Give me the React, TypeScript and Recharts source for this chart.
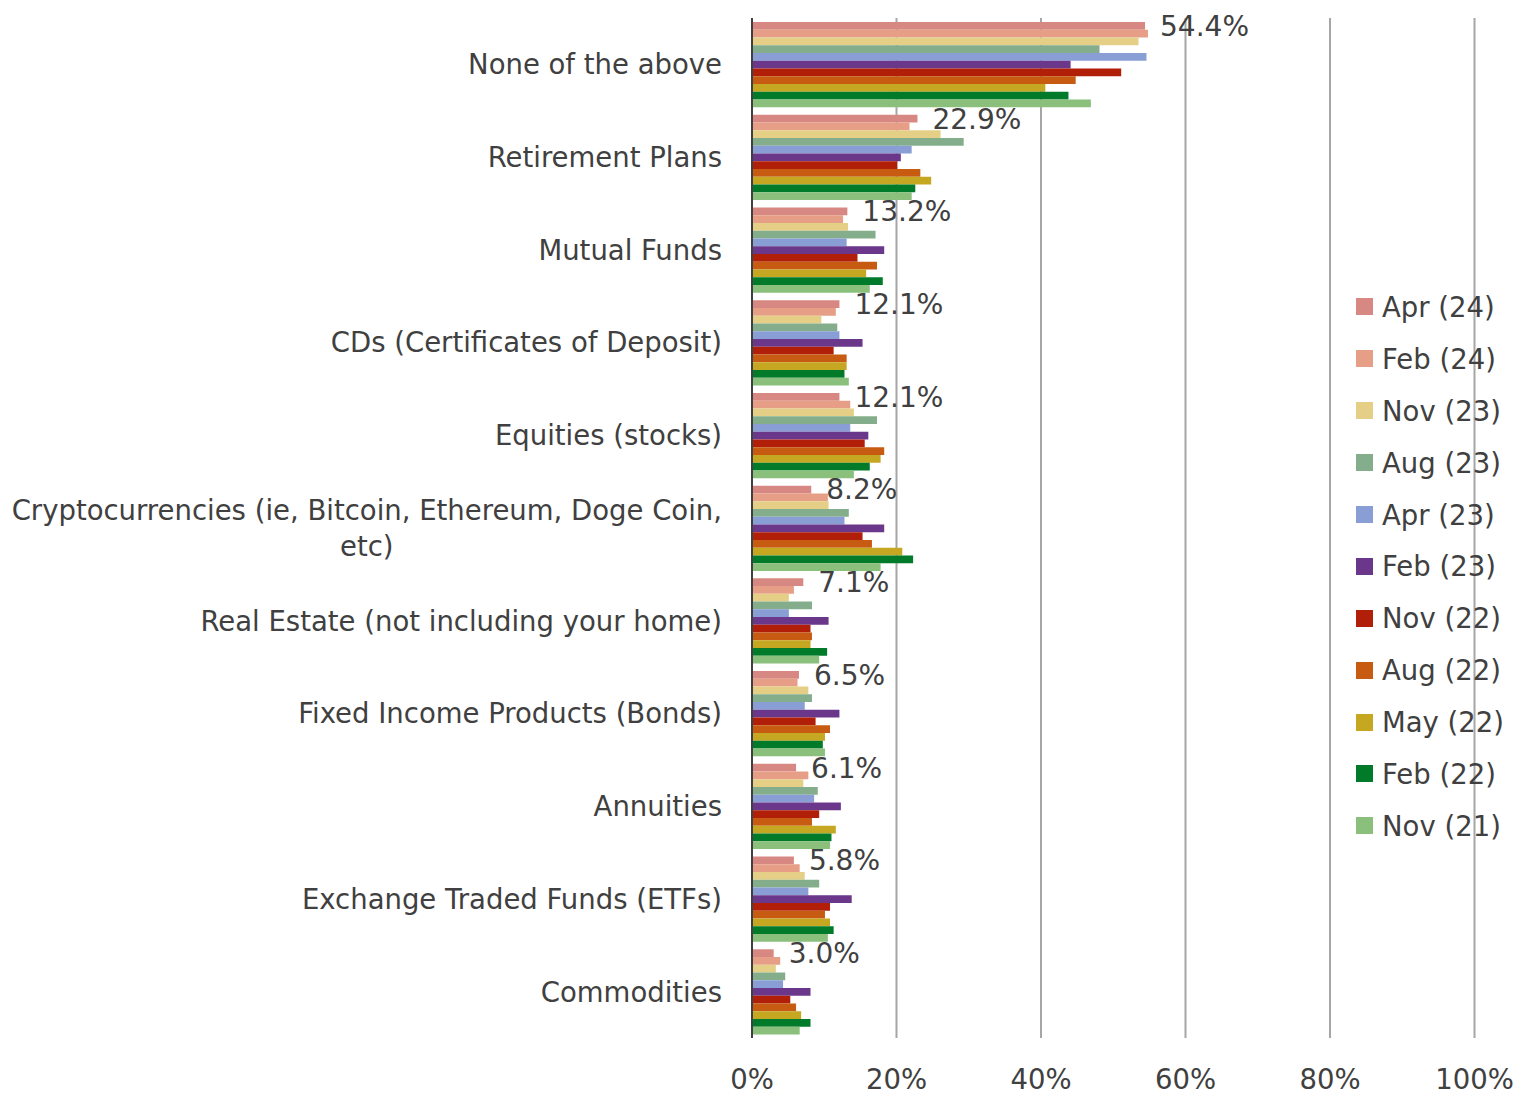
import React from "react";
import { BarChart, Bar, XAxis, YAxis, CartesianGrid, Legend, LabelList } from "recharts";

const categories = [
  "None of the above",
  "Retirement Plans",
  "Mutual Funds",
  "CDs (Certificates of Deposit)",
  "Equities (stocks)",
  "Cryptocurrencies (ie, Bitcoin, Ethereum, Doge Coin, etc)",
  "Real Estate (not including your home)",
  "Fixed Income Products (Bonds)",
  "Annuities",
  "Exchange Traded Funds (ETFs)",
  "Commodities",
];

const apr24 = [54.4, 22.9, 13.2, 12.1, 12.1, 8.2, 7.1, 6.5, 6.1, 5.8, 3.0];
const feb24 = [54.8, 21.8, 12.6, 11.6, 13.6, 10.5, 5.8, 6.3, 7.8, 6.6, 3.9];
const nov23 = [53.5, 26.1, 13.3, 9.6, 14.1, 10.6, 5.1, 7.8, 7.1, 7.3, 3.3];
const aug23 = [48.1, 29.3, 17.1, 11.8, 17.3, 13.4, 8.3, 8.3, 9.1, 9.3, 4.6];
const apr23 = [54.6, 22.1, 13.1, 12.1, 13.6, 12.8, 5.1, 7.3, 8.6, 7.8, 4.3];
const feb23 = [44.1, 20.6, 18.3, 15.3, 16.1, 18.3, 10.6, 12.1, 12.3, 13.8, 8.1];
const nov22 = [51.1, 20.1, 14.6, 11.3, 15.6, 15.3, 8.1, 8.8, 9.3, 10.8, 5.3];
const aug22 = [44.8, 23.3, 17.3, 13.1, 18.3, 16.6, 8.3, 10.8, 8.3, 10.1, 6.1];
const may22 = [40.6, 24.8, 15.8, 13.1, 17.8, 20.8, 8.1, 10.1, 11.6, 10.8, 6.8];
const feb22 = [43.8, 22.6, 18.1, 12.8, 16.3, 22.3, 10.4, 9.8, 11.0, 11.3, 8.1];
const nov21 = [46.9, 22.1, 16.3, 13.4, 14.1, 17.8, 9.3, 10.1, 10.8, 10.5, 6.6];

const seriesNames = [
  "Apr (24)", "Feb (24)", "Nov (23)", "Aug (23)", "Apr (23)", "Feb (23)",
  "Nov (22)", "Aug (22)", "May (22)", "Feb (22)", "Nov (21)",
];
const seriesValues = [apr24, feb24, nov23, aug23, apr23, feb23, nov22, aug22, may22, feb22, nov21];
const seriesColors = [
  "#D88882", "#E79E86", "#E5CF87", "#84AE8B", "#889ED4", "#6A378A",
  "#B11F08", "#C65B11", "#C5A722", "#017A2A", "#8ABF7C",
];

const xTicks = [0, 20, 40, 60, 80, 100];

const data = categories.map((c, i) => {
  const row: Record<string, any> = { category: c };
  seriesNames.forEach((s, k) => {
    row[s] = seriesValues[k][i];
  });
  return row;
});

const FONT = "'DejaVu Sans', Verdana, sans-serif";
const TEXT = "#404040";
const CAT_SIZE = 27.5;

let ctx: CanvasRenderingContext2D | null = null;
function measure(t: string): number {
  if (!ctx) {
    const c = document.createElement("canvas");
    ctx = c.getContext("2d");
  }
  if (!ctx) return t.length * CAT_SIZE * 0.55;
  ctx.font = `${CAT_SIZE}px 'DejaVu Sans'`;
  return ctx.measureText(t).width;
}

function wrap(text: string, maxW: number): string[] {
  const words = text.split(" ");
  const lines: string[] = [];
  let cur = "";
  for (const w of words) {
    const test = cur ? cur + " " + w : w;
    if (measure(test) > maxW && cur) {
      lines.push(cur);
      cur = w;
    } else {
      cur = test;
    }
  }
  if (cur) lines.push(cur);
  return lines;
}

function CategoryTick(props: any) {
  const { x, y, payload } = props;
  const lines = wrap(String(payload.value), 716);
  const block = Math.max(...lines.map(measure));
  const cx = x - block / 2;
  const lh = 36;
  const y0 = y - ((lines.length - 1) * lh) / 2;
  return (
    <g>
      {lines.map((l, i) => (
        <text
          key={i}
          x={cx}
          y={y0 + i * lh}
          dy="0.36em"
          textAnchor="middle"
          fill={TEXT}
          fontSize={CAT_SIZE}
          fontFamily={FONT}
        >
          {l}
        </text>
      ))}
    </g>
  );
}

function LegendContent() {
  return (
    <div style={{ fontFamily: FONT }}>
      {seriesNames.map((name, i) => (
        <div
          key={name}
          style={{ display: "flex", alignItems: "center", height: 51.9, whiteSpace: "nowrap" }}
        >
          <span
            style={{
              display: "inline-block",
              width: 17,
              height: 17,
              background: seriesColors[i],
              marginRight: 9,
            }}
          />
          <span style={{ fontSize: CAT_SIZE, color: TEXT }}>{name}</span>
        </div>
      ))}
    </div>
  );
}

export default function App() {
  return (
    <div
      style={{
        position: "absolute",
        left: 0,
        top: 0,
        width: 1515,
        height: 1095,
        overflow: "hidden",
        background: "#fff",
        fontFamily: FONT,
      }}
    >
      <div style={{ position: "absolute", left: 8, top: 8 }}>
        <BarChart
          width={1507}
          height={1087}
          data={data}
          layout="vertical"
          margin={{ top: 10, right: 40.5, bottom: 7, left: 0 }}
          barGap={0}
          barSize={7.75}
        >
          <CartesianGrid horizontal={false} vertical={true} stroke="#A6A6A6" strokeWidth={2} />
          <XAxis
            type="number"
            domain={[0, 100]}
            ticks={xTicks}
            tickFormatter={(v: number) => `${v}%`}
            axisLine={false}
            tickLine={false}
            tickSize={0}
            tickMargin={31}
            height={50}
            tick={{ fill: TEXT, fontSize: CAT_SIZE, fontFamily: FONT }}
            interval={0}
          />
          <YAxis
            type="category"
            dataKey="category"
            width={744}
            axisLine={{ stroke: TEXT, strokeWidth: 2 }}
            tickLine={false}
            tickSize={0}
            tickMargin={30}
            tick={<CategoryTick />}
            interval={0}
          />
          <Legend
            layout="vertical"
            align="center"
            verticalAlign="middle"
            wrapperStyle={{ left: 1348, top: 273, width: 165 }}
            content={<LegendContent />}
          />
          {seriesNames.map((s, k) => (
            <Bar key={s} dataKey={s} name={s} fill={seriesColors[k]} isAnimationActive={false}>
              {k === 0 ? (
                <LabelList
                  dataKey={s}
                  position="right"
                  offset={15}
                  formatter={(v: any) => `${Number(v).toFixed(1)}%`}
                  fill={TEXT}
                  fontSize={28}
                  fontFamily={FONT}
                />
              ) : null}
            </Bar>
          ))}
        </BarChart>
      </div>
    </div>
  );
}
